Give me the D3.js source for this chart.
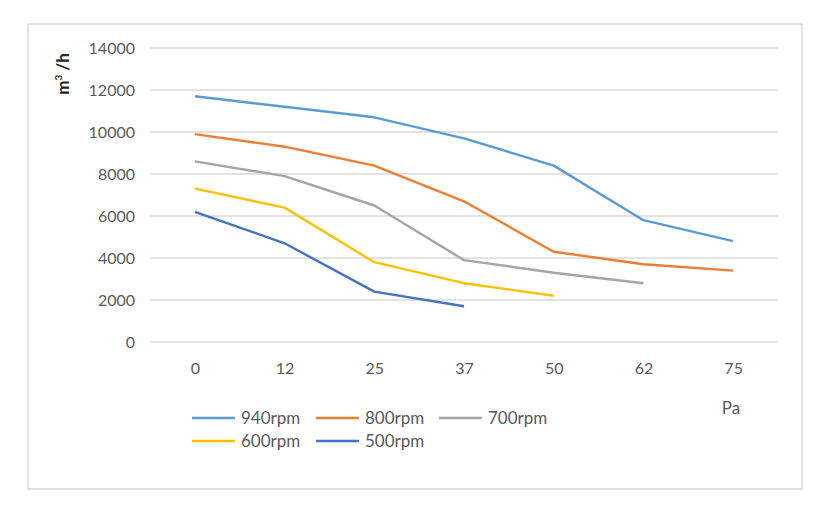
<!DOCTYPE html>
<meta charset="utf-8">
<style>
body { margin: 0; background: #fff; }
text { font-family: Lato, "Open Sans", sans-serif; }
.tick text { fill: #595959; font-size: 16px; }
.grid line { stroke: #d9d9d9; stroke-width: 1.3; }
.series { fill: none; stroke-width: 2.4; stroke-linejoin: round; }
</style>
<svg width="831" height="519"></svg>
<script src="https://d3js.org/d3.v7.min.js"></script>
<script>

var categories = ["0", "12", "25", "37", "50", "62", "75"];
var yTicks = [0, 2000, 4000, 6000, 8000, 10000, 12000, 14000];

var rpm940 = [11700, 11200, 10700, 9700, 8400, 5800, 4800];
var rpm800 = [9900, 9300, 8400, 6700, 4300, 3700, 3400];
var rpm700 = [8600, 7900, 6500, 3900, 3300, 2800];
var rpm600 = [7300, 6400, 3800, 2800, 2200];
var rpm500 = [6200, 4700, 2400, 1700];

var seriesNames = ["940rpm", "800rpm", "700rpm", "600rpm", "500rpm"];
var seriesColors = ["#5b9bd5", "#ed7d31", "#a5a5a5", "#ffc000", "#4472c4"];
var seriesValues = [rpm940, rpm800, rpm700, rpm600, rpm500];

var svg = d3.select("svg");

// chart frame
svg.append("rect")
    .attr("x", 28).attr("y", 24)
    .attr("width", 774).attr("height", 465)
    .attr("fill", "#fff")
    .attr("stroke", "#d9d9d9")
    .attr("stroke-width", 1.5);

var plotLeft = 150, plotRight = 778, plotTop = 48, plotBottom = 342;

var x = d3.scalePoint().domain(categories).range([plotLeft, plotRight]).padding(0.5);
var y = d3.scaleLinear().domain([0, 14000]).range([plotBottom, plotTop]);

// gridlines
svg.append("g")
    .attr("class", "grid")
    .selectAll("line")
    .data(yTicks)
    .enter().append("line")
      .attr("x1", plotLeft).attr("x2", plotRight)
      .attr("y1", function(d) { return y(d); })
      .attr("y2", function(d) { return y(d); });

var yAxis = svg.append("g")
    .attr("transform", "translate(" + (plotLeft - 12) + ",0)")
    .call(d3.axisLeft(y).tickValues(yTicks).tickSize(0).tickFormat(d3.format("d")));
yAxis.select(".domain").remove();
yAxis.selectAll("text").attr("dy", "0.35em");

var xAxis = svg.append("g")
    .attr("transform", "translate(0," + (plotBottom + 18) + ")")
    .call(d3.axisBottom(x).tickSize(0));
xAxis.select(".domain").remove();

// y title
var yTitle = svg.append("text")
    .attr("transform", "translate(69,74) rotate(-90)")
    .attr("text-anchor", "middle")
    .attr("fill", "#262626")
    .attr("font-size", 17)
    .attr("font-weight", "bold");
yTitle.append("tspan").text("m");
yTitle.append("tspan").attr("font-size", 10).attr("dy", -7).text("3");
yTitle.append("tspan").attr("dy", 7).text(" /h");

// x title
svg.append("text")
    .attr("x", 731).attr("y", 414)
    .attr("text-anchor", "middle")
    .attr("fill", "#595959")
    .attr("font-size", 17)
    .text("Pa");

var line = d3.line()
    .x(function(d, i) { return x(categories[i]); })
    .y(function(d) { return y(d); });

svg.selectAll(".series")
    .data(seriesValues)
    .enter().append("path")
      .attr("class", "series")
      .attr("stroke", function(d, i) { return seriesColors[i]; })
      .attr("d", line);

// legend
var legendPos = [[192, 418], [316, 418], [439, 418], [192, 441], [316, 441]];
var legend = svg.selectAll(".legend")
    .data(seriesNames)
    .enter().append("g")
      .attr("class", "legend")
      .attr("transform", function(d, i) { return "translate(" + legendPos[i][0] + "," + legendPos[i][1] + ")"; });

legend.append("line")
    .attr("x1", 0).attr("x2", 43)
    .attr("stroke", function(d, i) { return seriesColors[i]; })
    .attr("stroke-width", 2.4);

legend.append("text")
    .attr("x", 49).attr("dy", "0.35em")
    .attr("fill", "#595959")
    .attr("font-size", 17)
    .text(function(d) { return d; });

</script>
